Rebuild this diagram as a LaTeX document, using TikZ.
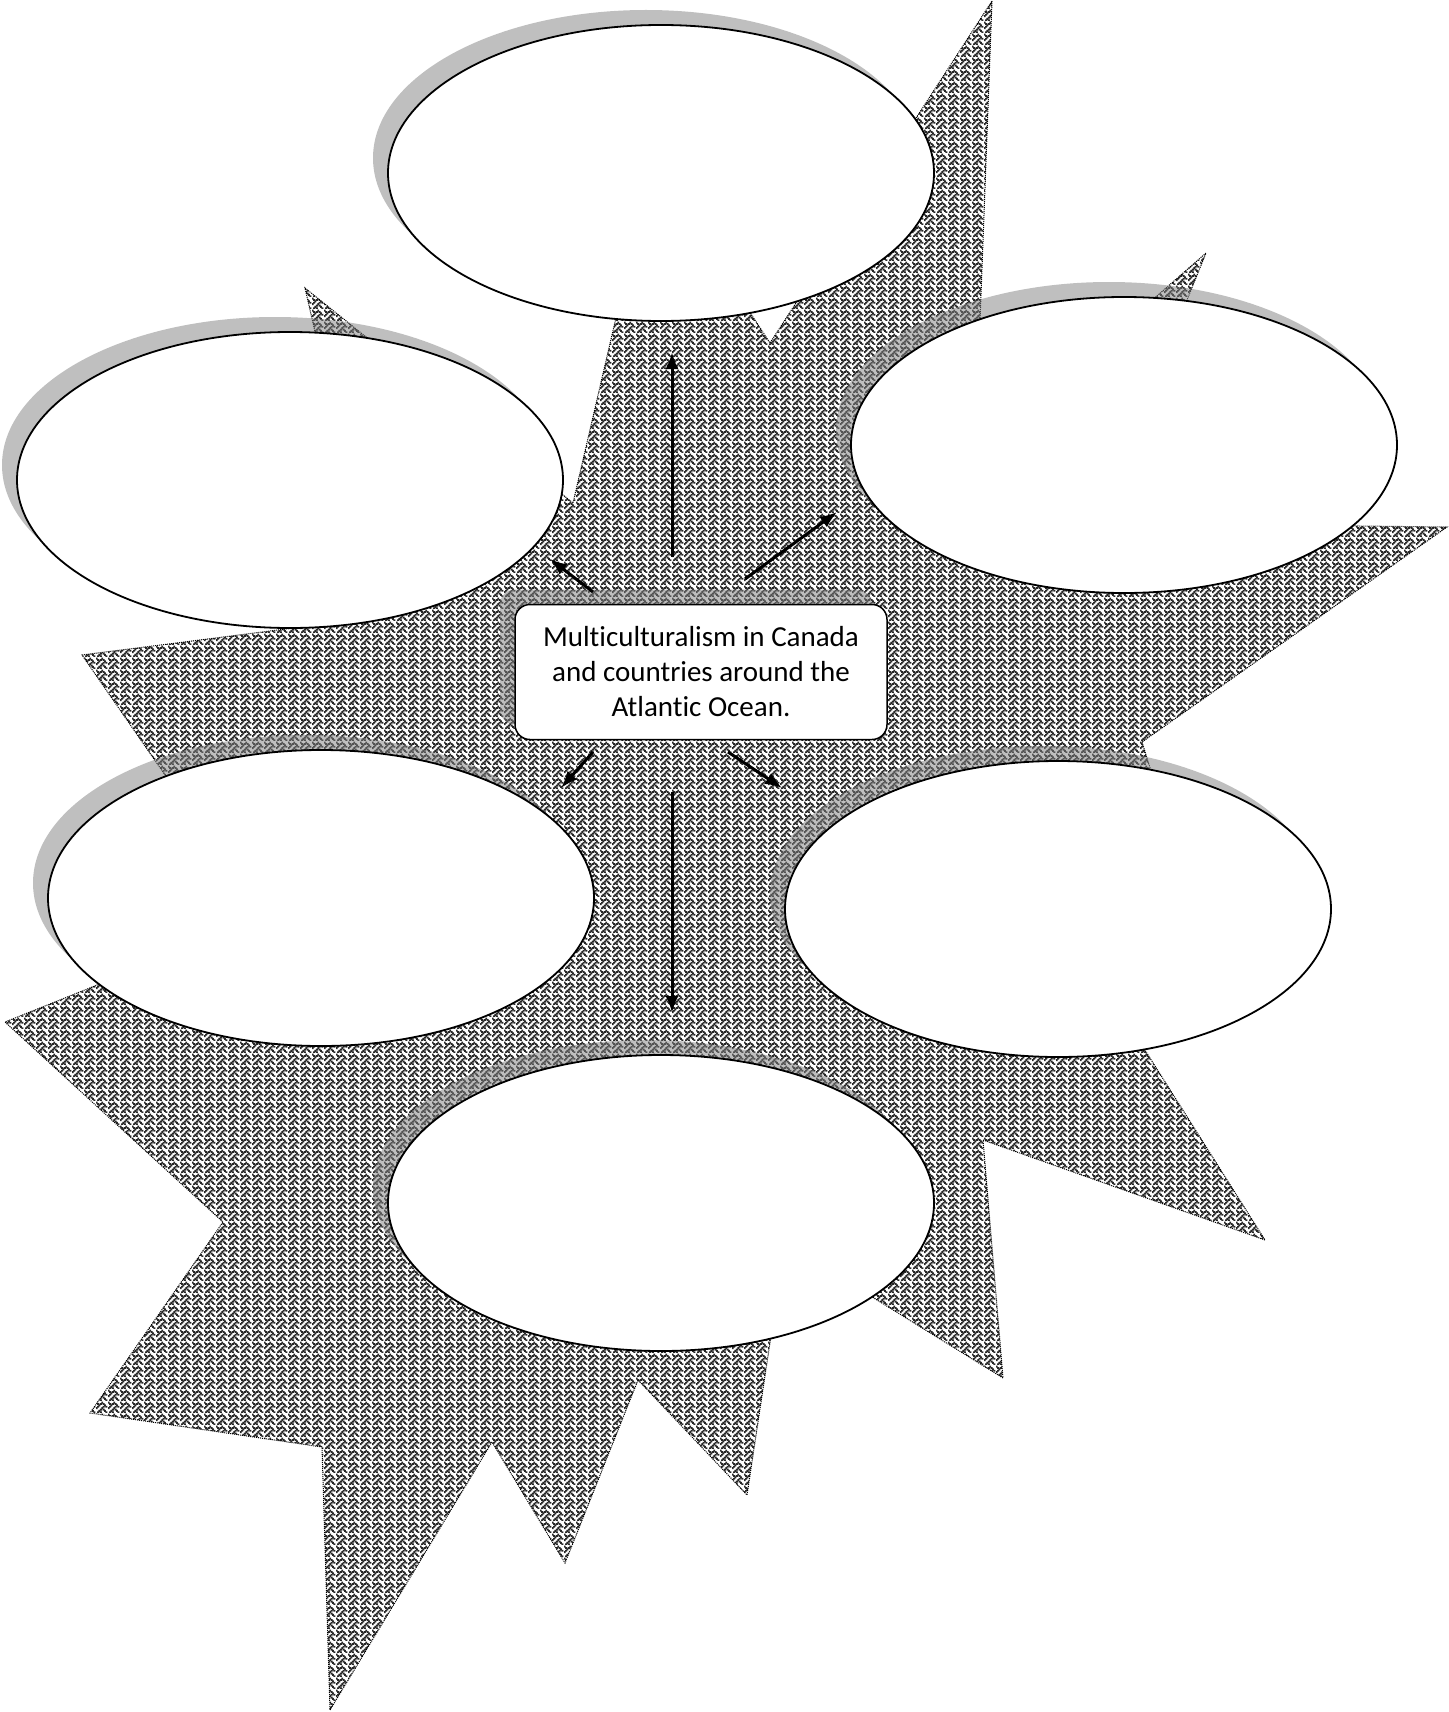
\documentclass[tikz,border=0pt]{standalone}
\usepackage{fontspec}
\setmainfont{Carlito}[Ligatures=NoCommon]
\usetikzlibrary{shapes,arrows.meta,patterns,shadows}

\pgfdeclarepatternformonly{weave}{\pgfpointorigin}{\pgfqpoint{12pt}{12pt}}{\pgfqpoint{12pt}{12pt}}{%
  \foreach \r/\c in {0/0,0/4,1/1,1/3,1/5,2/2,2/6,3/1,3/5,3/7,4/0,4/4,5/3,5/5,6/2,6/6,7/1,7/3,7/7}{%
    \pgfpathrectangle{\pgfpoint{\c*1.5pt-0.3pt}{(7-\r)*1.5pt-0.3pt}}{\pgfqpoint{2.1pt}{2.1pt}}%
  }%
  \pgfusepath{fill}%
}

\begin{document}
\begin{tikzpicture}[x=1pt, y=-1pt,
        burst/.style={pattern=weave, pattern color=black!85, draw, line width=1pt, dash pattern=on 1pt off 1pt},
        bubble/.style={ellipse, draw, line width=1.8pt, fill=white, minimum width=546pt, minimum height=296pt, inner sep=0pt,
            drop shadow={shadow xshift=-15pt, shadow yshift=15pt}},
        hub/.style={rectangle, rounded corners=15pt, draw, line width=1.5pt, fill=white, minimum width=372pt, minimum height=135pt,
            align=center, font=\fontsize{29}{35}\selectfont, drop shadow={shadow xshift=-15pt, shadow yshift=15pt}},
        arr/.style={-{Latex[length=17pt,width=13pt]}, line width=3pt}]

        \useasboundingbox (0,0) rectangle (1448,1712);

        \draw[burst] (992,1) -- (975,455) -- (1206,253) -- (1097,523) -- (1447,527) -- (1142,742)
            -- (1160,800) -- (1100,979) -- (1265,1240) -- (983,1140) -- (1003,1378) -- (785,1243)
            -- (747,1495) -- (638,1380) -- (565,1563) -- (492,1442) -- (330,1710) -- (322,1447)
            -- (90,1413) -- (223,1222) -- (5,1022) -- (264,918) -- (82,655) -- (380,617)
            -- (305,288) -- (573,503) -- (615,322) -- (632,250) -- (709,250) -- (770,343) -- cycle;

        \node[bubble] (topB) at (661,173) {};
        \node[bubble] (nwB) at (290,480) {};
        \node[bubble] (neB) at (1124,445) {};
        \node[bubble] (swB) at (321,898) {};
        \node[bubble] (seB) at (1058,909) {};
        \node[bubble] (botB) at (661,1203) {};

        \node[hub] (hub) at (701,672) {Multiculturalism in Canada\\and countries around the\\Atlantic Ocean.};

        \coordinate (upS) at (672,557);
        \coordinate (upE) at (672,352);
        \coordinate (dnS) at (672,792);
        \coordinate (dnE) at (672,1013);
        \coordinate (nwS) at (593,592);
        \coordinate (nwE) at (550,559);
        \coordinate (neS) at (745,579);
        \coordinate (neE) at (837,512);
        \coordinate (swS) at (593,752);
        \coordinate (swE) at (561,788);
        \coordinate (seS) at (728,752);
        \coordinate (seE) at (782,788);

        \draw[arr] (upS) -- (upE);
        \draw[arr] (dnS) -- (dnE);
        \draw[arr] (nwS) -- (nwE);
        \draw[arr] (neS) -- (neE);
        \draw[arr] (swS) -- (swE);
        \draw[arr] (seS) -- (seE);
    \end{tikzpicture}
\end{document}
